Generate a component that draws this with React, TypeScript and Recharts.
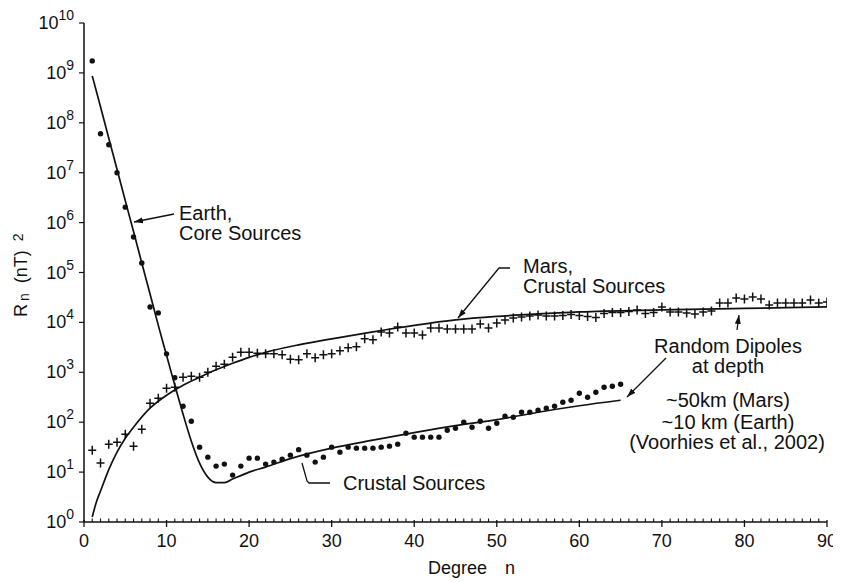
import React from 'react';
import { ComposedChart, Line, Scatter, XAxis, YAxis } from 'recharts';

// Earth observed spectrum (dots), degree n and log10(Rn)
const earthDegrees = [
  1, 2, 3, 4, 5, 6, 7, 8, 9, 10, 11, 12, 13, 14, 15, 16, 17, 18, 19, 20,
  21, 22, 23, 24, 25, 26, 27, 28, 29, 30, 31, 32, 33, 34, 35, 36, 37, 38, 39, 40,
  41, 42, 43, 44, 45, 46, 47, 48, 49, 50, 51, 52, 53, 54, 55, 56, 57, 58, 59, 60,
  61, 62, 63, 64, 65,
];
const earthLogPower = [
  9.24, 7.78, 7.56, 7.0, 6.31, 5.71, 5.19, 4.31, 4.19, 3.37, 2.89, 2.32, 2.02, 1.5, 1.3, 1.12, 1.16, 0.94, 1.12, 1.28,
  1.28, 1.16, 1.2, 1.26, 1.34, 1.45, 1.34, 1.2, 1.3, 1.5, 1.4, 1.5, 1.48, 1.48, 1.48, 1.5, 1.52, 1.56, 1.78, 1.7,
  1.7, 1.7, 1.7, 1.84, 1.88, 2.0, 1.9, 2.02, 1.88, 1.98, 2.12, 2.1, 2.2, 2.2, 2.24, 2.28, 2.32, 2.4, 2.44, 2.58,
  2.5, 2.6, 2.7, 2.72, 2.76,
];

// Mars observed spectrum (crosses)
const marsDegrees = [
  1, 2, 3, 4, 5, 6, 7, 8, 9, 10, 11, 12, 13, 14, 15, 16, 17, 18, 19, 20,
  21, 22, 23, 24, 25, 26, 27, 28, 29, 30, 31, 32, 33, 34, 35, 36, 37, 38, 39, 40,
  41, 42, 43, 44, 45, 46, 47, 48, 49, 50, 51, 52, 53, 54, 55, 56, 57, 58, 59, 60,
  61, 62, 63, 64, 65, 66, 67, 68, 69, 70, 71, 72, 73, 74, 75, 76, 77, 78, 79, 80,
  81, 82, 83, 84, 85, 86, 87, 88, 89, 90,
];
const marsLogPower = [
  1.44, 1.18, 1.56, 1.6, 1.76, 1.52, 1.86, 2.38, 2.48, 2.68, 2.7, 2.9, 2.92, 2.9, 3.0, 3.12, 3.16, 3.3, 3.4, 3.4,
  3.38, 3.37, 3.37, 3.35, 3.26, 3.25, 3.37, 3.29, 3.35, 3.37, 3.43, 3.49, 3.51, 3.67, 3.65, 3.81, 3.79, 3.91, 3.79, 3.79,
  3.75, 3.89, 3.89, 3.87, 3.87, 3.87, 3.87, 3.97, 3.89, 3.99, 4.05, 4.09, 4.11, 4.13, 4.15, 4.13, 4.13, 4.14, 4.16, 4.14,
  4.12, 4.1, 4.18, 4.2, 4.2, 4.22, 4.25, 4.18, 4.2, 4.31, 4.21, 4.21, 4.19, 4.17, 4.21, 4.23, 4.39, 4.39, 4.49, 4.47,
  4.51, 4.47, 4.35, 4.39, 4.39, 4.39, 4.39, 4.45, 4.39, 4.41,
];

// Earth model curve (core + random dipoles at depth)
const earthModelDegrees = [1, 2, 3, 4, 5, 6, 7, 8, 9, 10, 11, 12, 13, 14, 15, 16, 17, 18, 19, 20, 22, 25, 30, 35, 40, 45, 50, 55, 60, 65];
const earthModelLog = [8.94, 8.32, 7.69, 7.07, 6.44, 5.82, 5.19, 4.57, 3.94, 3.34, 2.74, 2.16, 1.62, 1.18, 0.9, 0.79, 0.79, 0.86, 0.93, 1.0, 1.1, 1.27, 1.48, 1.64, 1.79, 1.93, 2.05, 2.2, 2.33, 2.44];

// Mars model curve
const marsModelDegrees = [1, 1.5, 2, 3, 4, 5, 6, 8, 10, 12, 14, 16, 18, 20, 22, 26, 30, 35, 40, 45, 50, 55, 60, 70, 80, 90];
const marsModelLog = [0.1, 0.4, 0.62, 1.05, 1.4, 1.68, 1.9, 2.28, 2.54, 2.74, 2.9, 3.05, 3.18, 3.3, 3.4, 3.55, 3.67, 3.81, 3.94, 4.05, 4.12, 4.17, 4.21, 4.25, 4.28, 4.31];

const yTickPowers = [0, 1, 2, 3, 4, 5, 6, 7, 8, 9, 10];
const xMajorTicks = [0, 10, 20, 30, 40, 50, 60, 70, 80, 90];
const xAllTicks = Array.from({ length: 91 }, (_, i) => i);

const toData = (ns: number[], logs: number[]) => ns.map((n, i) => ({ n, v: Math.pow(10, logs[i]) }));
const earthData = toData(earthDegrees, earthLogPower);
const marsData = toData(marsDegrees, marsLogPower);
const earthModel = toData(earthModelDegrees, earthModelLog);
const marsModel = toData(marsModelDegrees, marsModelLog);

const INK = '#111111';
const FONT = '"Liberation Sans", Arial, Helvetica, sans-serif';

const DotShape = (p: any) => <circle cx={p.cx} cy={p.cy} r={2.7} fill={INK} />;
const CrossShape = (p: any) => (
  <path
    d={`M${p.cx - 4},${p.cy}H${p.cx + 4}M${p.cx},${p.cy - 4.5}V${p.cy + 4.5}`}
    stroke={INK}
    strokeWidth={1.5}
    fill="none"
  />
);

const XTick = (p: any) => {
  const { x, y, payload } = p;
  const v = payload.value;
  const major = xMajorTicks.includes(v);
  return (
    <g>
      {major ? (
        <line x1={x} y1={y - 2} x2={x} y2={y + 5} stroke={INK} strokeWidth={1.3} />
      ) : (
        <line x1={x} y1={y} x2={x} y2={y - 3.5} stroke={INK} strokeWidth={1.1} />
      )}
      {major && (
        <text x={x} y={y + 25} textAnchor="middle" fontSize={18} fontFamily={FONT} fill={INK}>
          {v}
        </text>
      )}
    </g>
  );
};

const YTick = (p: any) => {
  const { x, y, payload } = p;
  const k = Math.round(Math.log10(payload.value));
  return (
    <text x={x} y={y + 6} textAnchor="end" fontSize={18} fontFamily={FONT} fill={INK}>
      10
      <tspan dy={-9} fontSize={14}>
        {k}
      </tspan>
    </text>
  );
};

const W = 833;
const H = 574;

export default function App() {
  const txt = { fontSize: 20, fontFamily: FONT, fill: INK } as const;
  return (
    <div style={{ position: 'relative', width: W, height: H, background: '#fff' }}>
      <ComposedChart width={W} height={H} margin={{ top: 15, right: 14, bottom: 0, left: 0 }}>
        <XAxis
          type="number"
          dataKey="n"
          domain={[0, 90]}
          ticks={xAllTicks}
          interval={0}
          allowDataOverflow
          tickLine={false}
          tickSize={0}
          tickMargin={0}
          tick={<XTick />}
          axisLine={{ stroke: INK, strokeWidth: 1.5 }}
          height={60}
        />
        <YAxis
          type="number"
          scale="log"
          domain={[1, 1e10]}
          ticks={yTickPowers.map((k) => Math.pow(10, k))}
          interval={0}
          allowDataOverflow
          tickSize={5}
          tickMargin={5}
          tickLine={{ stroke: INK, strokeWidth: 1.2 }}
          tick={<YTick />}
          axisLine={{ stroke: INK, strokeWidth: 1.5 }}
          width={76}
        />
        <Line
          data={earthModel}
          dataKey="v"
          type="monotone"
          dot={false}
          activeDot={false}
          stroke={INK}
          strokeWidth={1.7}
          isAnimationActive={false}
        />
        <Line
          data={marsModel}
          dataKey="v"
          type="monotone"
          dot={false}
          activeDot={false}
          stroke={INK}
          strokeWidth={1.7}
          isAnimationActive={false}
        />
        <Scatter data={earthData} dataKey="v" shape={DotShape} isAnimationActive={false} />
        <Scatter data={marsData} dataKey="v" shape={CrossShape} isAnimationActive={false} />
      </ComposedChart>
      <svg
        width={W}
        height={H}
        style={{ position: 'absolute', left: 0, top: 0, pointerEvents: 'none' }}
      >
        <defs>
          <marker id="ah" markerUnits="userSpaceOnUse" markerWidth={10} markerHeight={8} refX={9} refY={4} orient="auto">
            <path d="M0,1 L9,4 L0,7 z" fill={INK} />
          </marker>
        </defs>
        {/* Y axis label */}
        <text transform="translate(19,309) rotate(-90)" fontSize={18} fontFamily={FONT} fill={INK}>
          R
          <tspan dx={3} dy={2} fontSize={14}>n</tspan>
          <tspan dx={10} dy={-2}>(nT)</tspan>
          <tspan dx={9} dy={-4} fontSize={14}>2</tspan>
        </text>
        {/* X axis label */}
        <text x={420} y={566} fontSize={18} fontFamily={FONT} fill={INK}>Degree</text>
        <text x={497} y={566} fontSize={18} fontFamily={FONT} fill={INK}>n</text>

        {/* Earth core annotation */}
        <text x={171} y={212} {...txt}>Earth,</text>
        <text x={171} y={232} {...txt}>Core Sources</text>
        <line x1={166} y1={206} x2={126} y2={214} stroke={INK} strokeWidth={1.3} markerEnd="url(#ah)" />

        {/* Mars annotation */}
        <text x={515} y={265} {...txt}>Mars,</text>
        <text x={515} y={285} {...txt}>Crustal Sources</text>
        <polyline points="502,260 491,260 450,310" fill="none" stroke={INK} strokeWidth={1.3} markerEnd="url(#ah)" />

        {/* Earth crustal annotation */}
        <text x={335} y={482} {...txt}>Crustal Sources</text>
        <polyline points="294,455 299,473 301,475 322,475" fill="none" stroke={INK} strokeWidth={1.3} />

        {/* Random dipoles annotation */}
        <text x={720} y={345} textAnchor="middle" {...txt}>Random Dipoles</text>
        <text x={720} y={365} textAnchor="middle" {...txt}>at depth</text>
        <line x1={658} y1={350} x2={619} y2={389} stroke={INK} strokeWidth={1.3} markerEnd="url(#ah)" />
        <line x1={729} y1={322} x2={731} y2={307} stroke={INK} strokeWidth={1.3} markerEnd="url(#ah)" />
        <text x={720} y={399} textAnchor="middle" {...txt}>~50km (Mars)</text>
        <text x={720} y={421} textAnchor="middle" {...txt}>~10 km (Earth)</text>
        <text x={719} y={441} textAnchor="middle" {...txt}>(Voorhies et al., 2002)</text>
      </svg>
    </div>
  );
}
